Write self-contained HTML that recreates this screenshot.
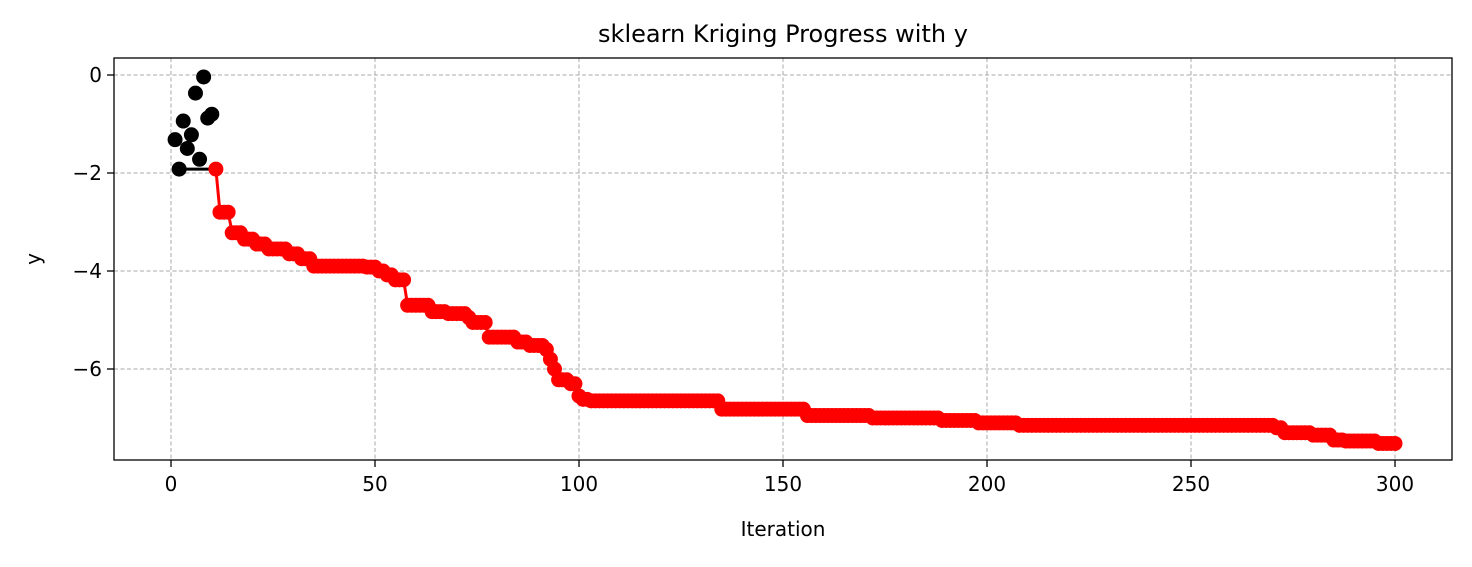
<!DOCTYPE html>
<html><head><meta charset="utf-8"><style>
body{margin:0;background:#fff}
svg text{font-family:"DejaVu Sans","Liberation Sans",sans-serif;fill:#000}
</style></head><body>
<svg id="s" width="1472" height="562" xmlns="http://www.w3.org/2000/svg">
<rect width="1472" height="562" fill="#fff"/>
<g id="grid" stroke="#a8a8a8" stroke-width="1" stroke-dasharray="4,2.5"></g>
<g id="data"></g>
<rect x="114" y="58" width="1338" height="402" fill="none" stroke="#000" stroke-width="1.3"/>
<g id="ticks" stroke="#000" stroke-width="1.3"></g>
<g id="labels" font-size="20"></g>
<text x="783" y="42" font-size="24" text-anchor="middle">sklearn Kriging Progress with y</text>
<text x="783" y="536" font-size="20" text-anchor="middle">Iteration</text>
<text transform="translate(40,259) rotate(-90)" font-size="20" text-anchor="middle">y</text>
</svg>
<script>
const NS="http://www.w3.org/2000/svg";
const X=i=>171+i*4.08, Y=v=>75-v*49;
function el(p,t,a,txt){const e=document.createElementNS(NS,t);for(const k in a)e.setAttribute(k,a[k]);if(txt!==undefined)e.textContent=txt;document.getElementById(p).appendChild(e);}
for(let i=0;i<=300;i+=50){el('grid','line',{x1:X(i),x2:X(i),y1:58,y2:460});el('ticks','line',{x1:X(i),x2:X(i),y1:460,y2:467});
el('labels','text',{x:X(i),y:491,'text-anchor':'middle'},String(i));}
for(let v=0;v>=-6;v-=2){el('grid','line',{x1:114,x2:1452,y1:Y(v),y2:Y(v)});el('ticks','line',{x1:107,x2:114,y1:Y(v),y2:Y(v)});
el('labels','text',{x:102,y:Y(v)+7,'text-anchor':'end'},v==0?'0':'\u2212'+(-v));}
const black=[[1,-1.32],[2,-1.92],[3,-0.94],[4,-1.5],[5,-1.22],[6,-0.37],[7,-1.72],[8,-0.04],[9,-0.88],[10,-0.8]];
el('data','line',{x1:X(2),y1:Y(-1.92),x2:X(11),y2:Y(-1.92),stroke:'#000','stroke-width':3});
black.forEach(p=>el('data','circle',{cx:X(p[0]),cy:Y(p[1]),r:7.5,fill:'#000'}));
const steps=[[11,11,-1.92],[12,14,-2.8],[15,17,-3.22],[18,20,-3.35],[21,23,-3.45],[24,28,-3.55],[29,31,-3.65],[32,34,-3.75],[35,47,-3.9],[48,50,-3.92],[51,52,-4.0],[53,54,-4.08],[55,57,-4.18],[58,63,-4.7],[64,67,-4.83],[68,72,-4.87],[73,73,-4.95],[74,77,-5.05],[78,84,-5.35],[85,87,-5.45],[88,91,-5.52],[92,92,-5.6],[93,93,-5.8],[94,94,-6.0],[95,97,-6.22],[98,99,-6.3],[100,100,-6.55],[101,102,-6.62],[103,134,-6.65],[135,155,-6.82],[156,171,-6.95],[172,188,-7.0],[189,197,-7.05],[198,207,-7.1],[208,270,-7.15],[271,272,-7.2],[273,279,-7.3],[280,284,-7.35],[285,287,-7.45],[288,295,-7.47],[296,300,-7.52]];
const pts=[];steps.forEach(s=>{for(let i=s[0];i<=s[1];i++)pts.push([i,s[2]]);});
el('data','polyline',{points:pts.map(p=>X(p[0])+','+Y(p[1])).join(' '),fill:'none',stroke:'#f00','stroke-width':3});
pts.forEach(p=>el('data','circle',{cx:X(p[0]),cy:Y(p[1]),r:7.5,fill:'#f00'}));
</script>
</body></html>
